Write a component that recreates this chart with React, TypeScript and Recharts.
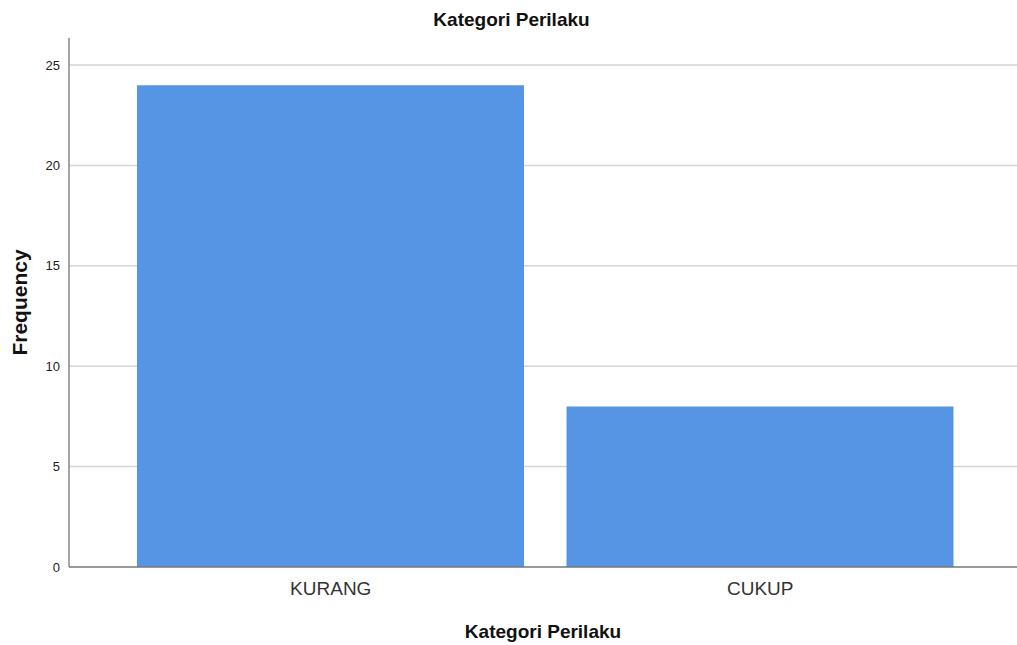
import { BarChart, Bar, XAxis, YAxis, CartesianGrid, Label } from 'recharts'

const categories = ['KURANG', 'CUKUP']
const frequencies = [24, 8]
const yTicks = [0, 5, 10, 15, 20, 25]

const data = categories.map((c, i) => ({ name: c, freq: frequencies[i] }))

const font = '"Liberation Sans", Arial, sans-serif'

export default function App() {
  return (
    <div style={{ position: 'absolute', left: 0, top: 0, width: 1017, height: 645, background: '#fff', fontFamily: font }}>
      <div
        style={{
          position: 'absolute', top: 9, left: 0, width: 1017, textAlign: 'center',
          fontSize: 19, lineHeight: '22px', fontWeight: 700, color: '#111',
        }}
      >
        <span style={{ position: 'relative', left: 3 }}>Kategori Perilaku</span>
      </div>
      <BarChart
        width={1017}
        height={645}
        data={data}
        margin={{ top: 38, right: 0, bottom: 0, left: 0 }}
        barSize={387}
      >
        <CartesianGrid
          vertical={false}
          horizontalValues={yTicks.slice(1)}
          stroke="#d4d4d4"
          strokeWidth={1.5}
        />
        <YAxis
          width={69}
          domain={[0, 26.35]}
          ticks={yTicks}
          tickLine={false}
          axisLine={{ stroke: '#888', strokeWidth: 1.5 }}
          tick={{ fill: '#222', fontSize: 13, fontFamily: font }}
          tickMargin={3}
          allowDataOverflow
        >
          <Label
            value="Frequency"
            angle={-90}
            position="insideLeft"
            offset={20}
            style={{ fill: '#111', fontSize: 21, fontWeight: 700, fontFamily: font, textAnchor: 'middle' }}
          />
        </YAxis>
        <XAxis
          dataKey="name"
          padding={{ left: 47, right: 42 }}
          tickLine={false}
          axisLine={{ stroke: '#777', strokeWidth: 1.5 }}
          tick={{ fill: '#333', fontSize: 19, fontFamily: font }}
          tickMargin={9}
          height={78}
        >
          <Label
            value="Kategori Perilaku"
            position="insideBottom"
            offset={7}
            style={{ fill: '#111', fontSize: 19, fontWeight: 700, fontFamily: font }}
          />
        </XAxis>
        <Bar dataKey="freq" fill="#5595e3" isAnimationActive={false} />
      </BarChart>
    </div>
  )
}
